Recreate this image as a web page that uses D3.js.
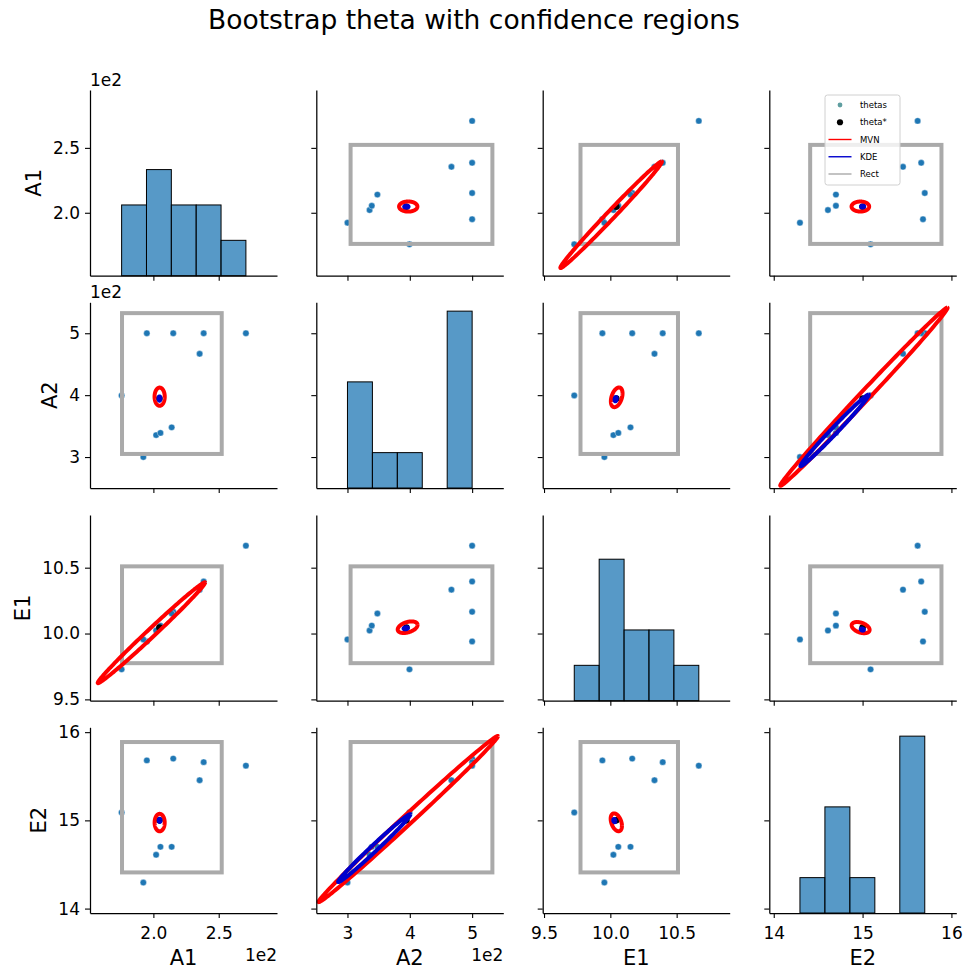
<!DOCTYPE html>
<html>
<head>
<meta charset="utf-8">
<script src="https://cdn.jsdelivr.net/npm/d3@7"></script>
<style>
  body { margin: 0; background: #fff; }
  text { font-family: "DejaVu Sans", sans-serif; }
</style>
</head>
<body>
<svg id="chart"></svg>
<script>
// ---- data ----
const varNames = ["A1", "A2", "E1", "E2"];

// bootstrap thetas (10 draws)
const thetaA1 = [195.0, 215.2, 238.5, 270.8, 235.4, 175.7, 202.1, 205.4, 214.0, 192.3];
const thetaA2 = [500, 500, 500, 500, 466.8, 399.5, 335.5, 339.0, 348.0, 300.0];
const thetaE1 = [9.940, 10.165, 10.395, 10.667, 10.333, 9.728, 10.023, 10.060, 10.152, 9.955];
const thetaE2 = [15.68, 15.70, 15.66, 15.62, 15.455, 15.09, 14.61, 14.70, 14.70, 14.295];
const thetaStar = [204.6, 394.5, 10.045, 15.0];

// axis limits, ticks
const axisLimits = [[151.5, 294.6], [250, 550], [9.49, 10.9], [13.95, 16.055]];
const tickValues = [[200, 250], [300, 400, 500], [9.5, 10, 10.5], [14, 15, 16]];
const tickLabels = [["2.0", "2.5"], ["3", "4", "5"], ["9.5", "10.0", "10.5"], ["14", "15", "16"]];
const offsetLabels = ["1e2", "1e2", "", ""];

// histogram counts (5 bins over the data range)
const histCounts = [[2, 3, 2, 2, 1], [3, 1, 1, 0, 5], [1, 4, 2, 2, 1], [1, 3, 1, 0, 5]];

// rectangular region per parameter
const rectBounds = [[176, 252.3], [305, 532.5], [9.775, 10.51], [14.41, 15.888]];

// ellipse regions per pair: centre, [half-extent x, half-extent y, correlation]
const pairs = [["A1", "A2"], ["A1", "E1"], ["A1", "E2"], ["A2", "E1"], ["A2", "E2"], ["E1", "E2"]];
const mvnCenters = [[204.8, 397.5], [198.5, 10.006], [204.8, 14.975], [396.5, 10.048], [397.5, 15.015], [10.045, 14.978]];
const mvnSpread = [[3.9, 14.7, 0], [41.1, 0.383, 0.994], [3.85, 0.099, 0], [15.9, 0.044, 0.4], [144, 0.942, 0.9969], [0.0425, 0.101, -0.4]];
const kdeCenters = [[204.7, 394.5], null, [204.8, 15.0], [393.5, 10.04], [343, 14.685], [10.03, 14.997]];
const kdeSpread = [[0.7, 3.5, 0], null, [0.7, 0.018, 0], [3.5, 0.008, 0.3], [58, 0.385, 0.9916], [0.008, 0.018, -0.3]];

const legendLabels = ["thetas", "theta*", "MVN", "KDE", "Rect"];

// ---- layout ----
const width = 973, height = 980;
const colX = [90, 316.3, 542.7, 769.3];
const rowY = [90, 302.3, 515, 727.3];
const panelW = 187, panelH = 185.7;

const thetaCols = [thetaA1, thetaA2, thetaE1, thetaE2];
const thetas = thetaA1.map((_, k) => thetaCols.map(c => c[k]));

const svg = d3.select("#chart").attr("width", width).attr("height", height);

svg.append("text")
  .attr("x", 474).attr("y", 29)
  .attr("text-anchor", "middle")
  .style("font-size", "26.5px")
  .text("Bootstrap theta with confidence regions");

const xScales = varNames.map((_, j) => d3.scaleLinear().domain(axisLimits[j]).range([colX[j], colX[j] + panelW]));
const yScales = varNames.map((_, i) => d3.scaleLinear().domain(axisLimits[i]).range([rowY[i] + panelH, rowY[i]]));

const maxCount = d3.max(histCounts.flat()) * 1.05;

function ellipsePoints(c, s) {
  const [hx, hy, rho] = s;
  const q = Math.sqrt(1 - rho * rho);
  return d3.range(0, 161).map(k => {
    const t = k / 160 * 2 * Math.PI;
    return [c[0] + hx * Math.cos(t), c[1] + hy * (rho * Math.cos(t) + q * Math.sin(t))];
  });
}

function findPair(a, b) {
  for (let p = 0; p < pairs.length; p++) {
    if (pairs[p][0] === a && pairs[p][1] === b) return { p, flip: false };
    if (pairs[p][0] === b && pairs[p][1] === a) return { p, flip: true };
  }
  return null;
}

for (let i = 0; i < 4; i++) {
  for (let j = 0; j < 4; j++) {
    const x = xScales[j], y = yScales[i];
    const g = svg.append("g");

    if (i === j) {
      // diagonal histogram
      const [lo, hi] = d3.extent(thetaCols[j]);
      const edges = d3.range(6).map(k => lo + k * (hi - lo) / 5);
      const cy = d3.scaleLinear().domain([0, maxCount]).range([rowY[i] + panelH, rowY[i]]);
      g.selectAll("rect.bar")
        .data(histCounts[j].map((c, k) => ({ c, x0: edges[k], x1: edges[k + 1] })).filter(d => d.c > 0))
        .join("rect")
        .attr("x", d => x(d.x0))
        .attr("width", d => x(d.x1) - x(d.x0))
        .attr("y", d => cy(d.c))
        .attr("height", d => cy(0) - cy(d.c))
        .attr("fill", "#1f77b4").attr("fill-opacity", 0.75)
        .attr("stroke", "#000").attr("stroke-width", 1);
    } else {
      // scatter of thetas
      g.selectAll("circle.theta")
        .data(thetas)
        .join("circle")
        .attr("cx", d => x(d[j]))
        .attr("cy", d => y(d[i]))
        .attr("r", 3.2)
        .attr("fill", "#1f77b4")
        .attr("stroke", "#fff").attr("stroke-width", 0.4);

      g.append("circle")
        .attr("cx", x(thetaStar[j])).attr("cy", y(thetaStar[i]))
        .attr("r", 3.3).attr("fill", "#000");

      // rectangle region
      g.append("rect")
        .attr("x", x(rectBounds[j][0]))
        .attr("y", y(rectBounds[i][1]))
        .attr("width", x(rectBounds[j][1]) - x(rectBounds[j][0]))
        .attr("height", y(rectBounds[i][0]) - y(rectBounds[i][1]))
        .attr("fill", "none")
        .attr("stroke", "#aaaaaa").attr("stroke-width", 4);

      const found = findPair(varNames[j], varNames[i]);
      const line = d3.line()
        .x(d => x(found.flip ? d[1] : d[0]))
        .y(d => y(found.flip ? d[0] : d[1]));

      g.append("path")
        .attr("d", line(ellipsePoints(mvnCenters[found.p], mvnSpread[found.p])))
        .attr("fill", "none")
        .attr("stroke", "#ff0000").attr("stroke-width", 4)
        .attr("stroke-linejoin", "round");

      if (kdeCenters[found.p]) {
        g.append("path")
          .attr("d", line(ellipsePoints(kdeCenters[found.p], kdeSpread[found.p])))
          .attr("fill", "none")
          .attr("stroke", "#0000cd").attr("stroke-width", 4)
          .attr("stroke-linejoin", "round");
      }
    }

    // axes (left + bottom spines only)
    const left = d3.axisLeft(y)
      .tickValues(tickValues[i])
      .tickSize(5).tickSizeOuter(0).tickPadding(5)
      .tickFormat((d, k) => j === 0 ? tickLabels[i][k] : "");
    const gl = g.append("g")
      .attr("transform", `translate(${colX[j]},0)`)
      .call(left);

    const bottom = d3.axisBottom(x)
      .tickValues(tickValues[j])
      .tickSize(5).tickSizeOuter(0).tickPadding(8.5)
      .tickFormat((d, k) => i === 3 ? tickLabels[j][k] : "");
    g.append("g")
      .attr("transform", `translate(0,${rowY[i] + panelH})`)
      .call(bottom);

    g.selectAll(".domain").attr("stroke", "#000").attr("stroke-width", 1.25);
    g.selectAll(".tick line").attr("stroke", "#000").attr("stroke-width", 1.1);
    g.selectAll(".tick text")
      .attr("fill", "#000")
      .style("font-family", "'DejaVu Sans', sans-serif")
      .style("font-size", "17px");

    if (j === 0) {
      const bb = gl.node().getBBox();
      const lx = colX[0] + bb.x - 12;
      const ly = rowY[i] + panelH / 2;
      svg.append("text")
        .attr("transform", `translate(${lx},${ly}) rotate(-90)`)
        .attr("text-anchor", "middle")
        .style("font-size", "21px")
        .text(varNames[i]);
      if (offsetLabels[i]) {
        svg.append("text")
          .attr("x", colX[0]).attr("y", rowY[i] - 4)
          .style("font-size", "17px")
          .text(offsetLabels[i]);
      }
    }
    if (i === 3) {
      svg.append("text")
        .attr("x", colX[j] + panelW / 2).attr("y", 965)
        .attr("text-anchor", "middle")
        .style("font-size", "21px")
        .text(varNames[j]);
      if (offsetLabels[j]) {
        svg.append("text")
          .attr("x", colX[j] + panelW).attr("y", 961)
          .attr("text-anchor", "end")
          .style("font-size", "17px")
          .text(offsetLabels[j]);
      }
    }
  }
}

// ---- legend in the top-right panel ----
const legend = svg.append("g").attr("transform", "translate(825,95)");
legend.append("rect")
  .attr("width", 75).attr("height", 90)
  .attr("rx", 2.5)
  .attr("fill", "#fff").attr("fill-opacity", 0.8)
  .attr("stroke", "#d0d0d0").attr("stroke-width", 1);

const legendStyle = [
  { type: "dot", color: "#5f9ea0" },
  { type: "dot", color: "#000" },
  { type: "line", color: "#ff0000" },
  { type: "line", color: "#0000cd" },
  { type: "line", color: "#aaaaaa" }
];
legendLabels.forEach((lab, k) => {
  const yy = 10 + k * 17.25;
  const st = legendStyle[k];
  if (st.type === "dot") {
    legend.append("circle").attr("cx", 15).attr("cy", yy).attr("r", k === 0 ? 2.4 : 3.1).attr("fill", st.color);
  } else {
    legend.append("line")
      .attr("x1", 3.5).attr("x2", 26.5).attr("y1", yy).attr("y2", yy)
      .attr("stroke", st.color).attr("stroke-width", 1.4);
  }
  legend.append("text")
    .attr("x", 35).attr("y", yy + 3.1)
    .style("font-size", "8.5px")
    .text(lab);
});
</script>
</body>
</html>
